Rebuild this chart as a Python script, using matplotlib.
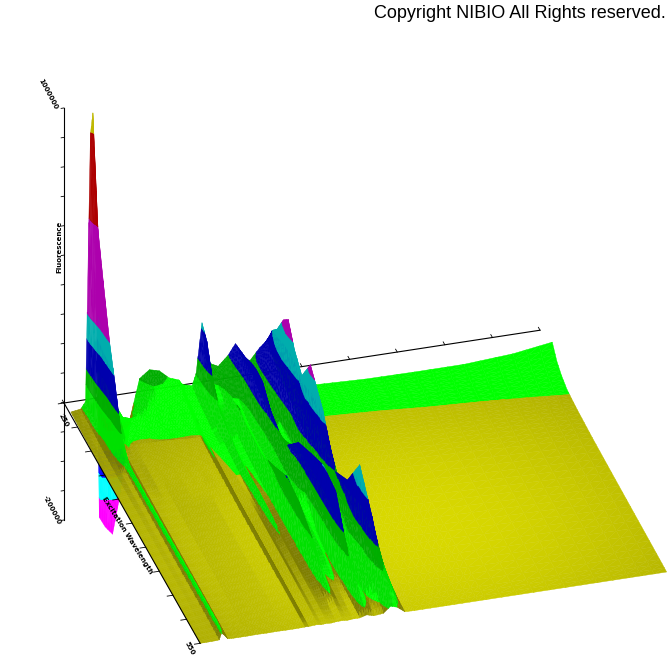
import numpy as np
import matplotlib
matplotlib.use("Agg")
import matplotlib.pyplot as plt
from mpl_toolkits.mplot3d import proj3d
from mpl_toolkits.mplot3d.art3d import Poly3DCollection

# x position across the plot, as a fraction of the axis
s_pos = [0, .01, .02, .03, .04, .045, .05, .058, .07, .085,
         .10, .12, .14, .16, .18, .20,
         .22, .224, .228, .247, .255, .267, .275, .286, .30, .31,
         .32, .335, .35, .365, .385, .40, .414, .43,
         .45, .50, .55, .60, .70, .80, .90, .98]
# position from the front edge (0) to the back edge of the surface (1)
t_pos = [0, .06, .15, .25, .35, .45, .55, .65, .72, .78, .83, .87, .92, .96, 1]
# the back edge of the surface is not parallel to the axis
back_s = [0, .98]
back_f = [.95, .84]

# heights, one list per t position
z_000 = [0, 0, .1, .2, .5, 7, 5, .3, 0, 0,
         0, .2, 0, .2, 0, 0,
         .2, .8, .2, .8, .2, .6, .2, .8, 1, .5,
         1, 1, 3, 1, 2, 8, 6, .3] + [0] * 8
z_006 = [.05, .1, .2, .5, 1, 9, 6.5, .8, .4, .4,
         .4, 1, .4, 1, .4, .4,
         .5, 2, .5, 2, .6, 2, .6, 2.5, 3.5, 1.5,
         3, 2, 13, 5, 10, 28, 18, .8] + [.4] * 8
z_015 = [.1, .3, .4, 1, 1.5, 9, 6.5, 1.2, .8, .8,
         .8, 1.8, .8, 1.8, .8, .8,
         .9, 3, .9, 3, 1, 3, 1, 4, 10, 4,
         6, 3, 30, 8, 25, 65, 30, 1.2] + [.8] * 8
z_025 = [.2, .4, .5, 1.2, 1.6, 9, 6.5, 1.6, 1.2, 1.2,
         1.2, 2.5, 1.2, 2.5, 1.2, 1.2,
         1.3, 4, 1.3, 4, 1.4, 4, 1.5, 5, 30, 10,
         15, 4, 72, 15, 38, 95, 50, 1.6] + [1.2] * 8
z_035 = [.3, .5, .6, 1.4, 1.8, 9, 6.5, 2, 1.6, 1.6,
         1.6, 3, 1.6, 3, 1.6, 1.6,
         1.7, 4.5, 1.7, 4.5, 1.8, 5, 2, 6, 42, 16,
         20, 12, 76, 15, 28, 58, 30, 2] + [1.6] * 8
z_045 = [.3, .6, .8, 1.6, 2, 9, 6.5, 2.5, 2, 2,
         2, 3.5, 2, 3.5, 2, 2,
         2, 5, 2.2, 5, 2.5, 10, 2.5, 6, 46, 18,
         24, 30, 66, 15, 25, 45, 28, 2.5] + [2] * 8
z_055 = [.4, .7, 1, 2, 2.5, 9, 6.5, 3, 2.5, 2.5,
         2.5, 4, 2.5, 4, 2.5, 2.5,
         2.5, 5, 2.7, 5, 4, 12, 3.5, 6, 34, 20,
         28, 45, 55, 20, 45, 85, 40, 3] + [2.5] * 8
z_065 = [.5, .8, 1.2, 2.5, 3, 10, 6.5, 3.5, 4.5, 3,
         3, 4, 3, 3, 3, 4,
         3.5, 6, 4, 6, 6, 10, 5, 8, 24, 18,
         25, 45, 30, 28, 62, 108, 55, 3.5] + [3] * 8
z_072 = [.6, 1, 1.5, 3, 4, 12, 6.5, 4, 5, 3.5,
         3.5, 3.5, 4, 4, 3.5, 3.5,
         4, 6, 5, 7, 8, 13, 7, 10, 25, 18,
         22, 52, 28, 26, 55, 82, 40, 4] + [3.8] * 8
z_078 = [.8, 1.5, 2, 4, 10, 29, 8, 4, 5, 4,
         4, 4, 4.5, 4.5, 4.5, 4.5,
         5, 7, 6, 8, 10, 18, 9, 12, 26, 20,
         26, 66, 33, 30, 62, 95, 50, 5] + [4.5] * 8
z_083 = [1, 2, 2.5, 5, 25, 70, 25, 5, 6.5, 5.5,
         5, 5, 5.5, 5.5, 5.5, 5,
         5.5, 6, 6.5, 8, 10, 24, 11, 16, 30, 24,
         30, 67, 36, 34, 70, 114, 60, 5.5] + [5.5] * 8
z_087 = [1.5, 2.5, 3, 7, 40, 100, 40, 10, 16, 8,
         8, 8, 10, 12, 10, 10,
         9, 9, 10, 10, 14, 26, 15, 20, 28, 28,
         32, 65, 38, 38, 70, 105, 60, 7,
         6.1, 6.1, 6.1, 6.1, 6.2, 6.2, 6.3, 6.5]
z_092 = [2, 3, 4, 10, 70, 150, 70, 15, 25, 12,
         10, 12, 16, 20, 18, 15,
         14, 14, 13, 12, 18, 45, 24, 25, 32, 35,
         40, 60, 42, 42, 65, 85, 50, 10,
         6.6, 6.5, 6.6, 6.8, 7.2, 8, 9, 11]
z_096 = [2.5, 3.5, 4, 10, 130, 192, 100, -20, -25, -25,
         -12, 12, 22, 28, 26, 20,
         18, 16, 15, 14, 22, 70, 30, 32, 38, 42,
         45, 58, 42, 42, 60, 75, 45, 12,
         7.2, 7, 7.1, 7.5, 8.6, 10.5, 13, 17]
z_100 = [3, 4, 5, 12, 280, 300, 200, -105, -115, -123,
         -85, -10, 30, 38, 36, 28,
         25, 22, 20, 18, 30, 80, 45, 38, 35, 40,
         45, 56, 40, 38, 50, 56, 35, 15,
         8, 7.5, 8, 8.5, 11, 14, 20, 28]

# colour bands by height
band_edges = [-1e9, -85, -60, -30, -6, 6, 29, 45, 75, 100, 195, 281, 1e9]
band_colors = [(1, 0, 1), (0, 1, 1), (0, 0, 1), (0, 1, 0), (.85, .85, 0), (0, 1, 0),
               (0, .68, 0), (0, 0, .68), (0, .68, .68), (.68, 0, .68), (.68, 0, 0), (.75, .72, 0)]

z_ticks = np.arange(15)
x_ticks = np.arange(0, 1.01, .1)
y_ticks = np.arange(0, 1.01, .1)

Z = np.array([z_000, z_006, z_015, z_025, z_035, z_045, z_055, z_065, z_072, z_078, z_083, z_087, z_092, z_096, z_100])
S = np.array(s_pos)
T = np.array(t_pos)
zlow, ztop = -117, 295

fig = plt.figure(figsize=(6.72, 6.72), dpi=100)
ax = fig.add_axes([0, 0, 1, 1], projection="3d", computed_zorder=False)
ax.set_proj_type("ortho")
ax.view_init(elev=31.3, azim=-106.4)
ax.set_xlim(0, 1, view_margin=0)
ax.set_ylim(0, 1, view_margin=0)
ax.set_zlim(zlow, ztop, view_margin=0)
ax.set_axis_off()


def to_pix(x, y, z):
    x2, y2, _ = proj3d.proj_transform(x, y, z, ax.get_proj())
    return ax.transData.transform((x2, y2))


# fit the box to the reference pixels
ax.set_box_aspect((496, 482, 482), zoom=1)
fig.canvas.draw()
length = np.linalg.norm(to_pix(1, 1, 0) - to_pix(0, 1, 0))
ax.set_box_aspect((496, 482, 482), zoom=np.hypot(476, 73) / length)
fig.canvas.draw()
want = np.array([64, 672 - 403])
shift = (want - to_pix(0, 1, 0)) / 672
ax.set_position([shift[0], shift[1], 1, 1])
fig.canvas.draw()


def clip_band(tri, lo, hi):
    # cut a triangle down to the part between two heights
    for level, keep in ((lo, 1), (hi, -1)):
        out = []
        for i in range(len(tri)):
            a, b = tri[i], tri[(i + 1) % len(tri)]
            da, db = keep * (a[2] - level), keep * (b[2] - level)
            if da >= 0:
                out.append(a)
            if da * db < 0:
                out.append(a + (b - a) * da / (da - db))
        tri = out
        if len(tri) < 3:
            return []
    return tri


def vertex(i, j, u, v):
    # point inside a table cell, only used to draw the cell smoothly
    s = S[i] + u * (S[i + 1] - S[i])
    t = T[j] + v * (T[j + 1] - T[j])
    z = ((1 - u) * (1 - v) * Z[j, i] + u * (1 - v) * Z[j, i + 1]
         + (1 - u) * v * Z[j + 1, i] + u * v * Z[j + 1, i + 1])
    return np.array([s, t * np.interp(s, back_s, back_f), z])


world = np.array([496, 482, 482 / 412])
light = np.array([270, 150, 420])
steps = np.linspace(0, 1, 4)
polys, colors = [], []
for j in range(len(T) - 1):
    for i in range(len(S) - 1):
        for a in range(3):
            for b in range(3):
                p00 = vertex(i, j, steps[a], steps[b])
                p10 = vertex(i, j, steps[a + 1], steps[b])
                p01 = vertex(i, j, steps[a], steps[b + 1])
                p11 = vertex(i, j, steps[a + 1], steps[b + 1])
                for tri in ([p00, p10, p11], [p00, p11, p01]):
                    w = np.array(tri) * world
                    n = np.cross(w[1] - w[0], w[2] - w[0])
                    n = n / np.linalg.norm(n)
                    d = light - w.mean(axis=0)
                    d = d / np.linalg.norm(d)
                    shade = max(.55, n @ d)
                    for k, col in enumerate(band_colors):
                        piece = clip_band(tri, band_edges[k], band_edges[k + 1])
                        if len(piece) < 3:
                            continue
                        # yellow goes dark on the small ridge flanks, the upper bands stay flat
                        if k == 4:
                            gain = max(.58, d[2] * abs(n[2]) ** 2.5)
                        elif k == 5:
                            gain = min(1, shade * 1.6)
                        else:
                            gain = 1
                        polys.append(np.array(piece))
                        colors.append(tuple(c * gain for c in col))

surf = Poly3DCollection(polys, facecolors=colors, edgecolors=colors, linewidths=.3, zorder=2)
ax.add_collection3d(surf, autolim=False)

# axis frame
ax.plot([0, 1], [1, 1], [0, 0], color="k", lw=.8, zorder=1)
ax.plot([0, 0], [0, 1], [0, 0], color="k", lw=.8, zorder=3)
ax.plot([0, 0], [1, 1], [zlow, ztop], color="k", lw=.8, zorder=3)
for t in x_ticks:
    ax.plot([t, t], [1, 1.012], [0, 0], color="k", lw=.6, zorder=1)
for t in y_ticks:
    ax.plot([0, -.012], [t, t], [0, 0], color="k", lw=.6, zorder=3)
for t in z_ticks:
    zt = zlow + t * 29.43
    ax.plot([0, -.006], [1, 1], [zt, zt], color="k", lw=.6, zorder=3)

# axis captions are tiny in the reference
small = dict(color="k", fontsize=5, fontweight="bold", ha="center", va="center", rotation_mode="anchor")
fig.text(48 / 672, 1 - 94 / 672, "1000000", rotation=-62, **small)
fig.text(59 / 672, 1 - 247 / 672, "Fluorescence", rotation=90, **small)
fig.text(64 / 672, 1 - 420 / 672, "250", rotation=-62, **small)
fig.text(52 / 672, 1 - 510 / 672, "-200000", rotation=-62, **small)
fig.text(127 / 672, 1 - 535 / 672, "Excitation Wavelength", rotation=-58, **small)
fig.text(190 / 672, 1 - 648 / 672, "550", rotation=-62, **small)

fig.text(666 / 672, 1 - 14 / 672, "Copyright NIBIO All Rights reserved.", ha="right", va="center",
         fontsize=13, family="Liberation Sans", color="k")

fig.savefig("out.png", dpi=100)
